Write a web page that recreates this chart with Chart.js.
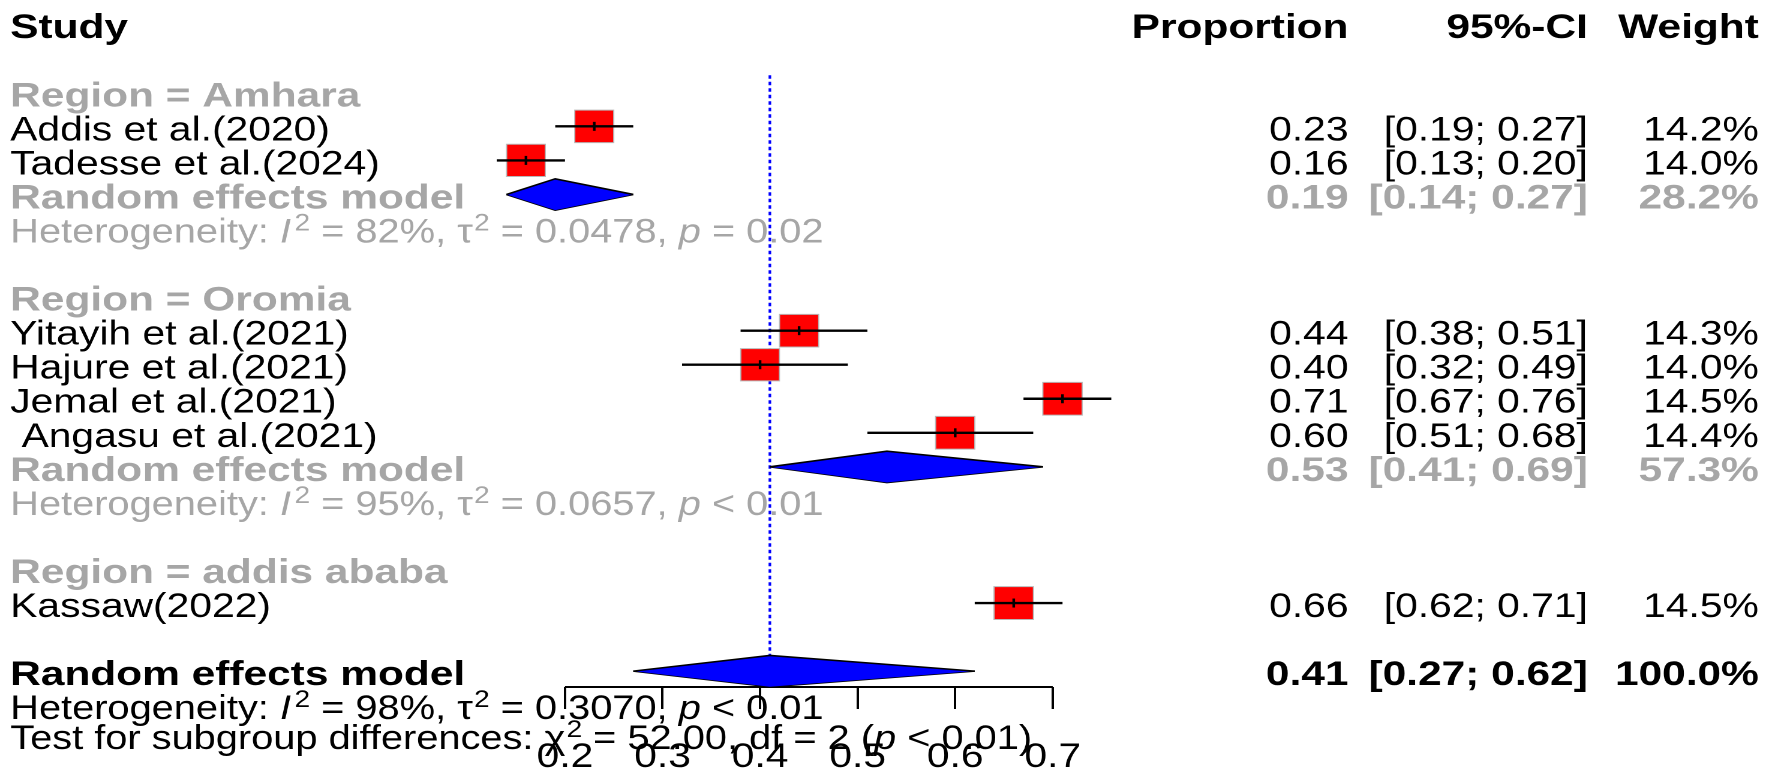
<!DOCTYPE html>
<html>
<head>
<meta charset="utf-8">
<script src="https://cdn.jsdelivr.net/npm/chart.js@4.4.1/dist/chart.umd.min.js"></script>
<style>
  html, body { margin: 0; padding: 0; background: #fff; overflow: hidden; }
  #forest { display: block; width: 1772px !important; height: 777px !important; }
</style>
</head>
<body>
<canvas id="forest" width="1477" height="777"></canvas>
<script>
// single studies
const studyLabels = ['Addis et al.(2020)', 'Tadesse et al.(2024)', 'Yitayih et al.(2021)', 'Hajure et al.(2021)',
                     'Jemal et al.(2021)', ' Angasu et al.(2021)', 'Kassaw(2022)'];
const studyRows = [3, 4, 9, 10, 11, 12, 17];
const studyEst = [0.23, 0.16, 0.44, 0.40, 0.71, 0.60, 0.66];
const studyLower = [0.19, 0.13, 0.38, 0.32, 0.67, 0.51, 0.62];
const studyUpper = [0.27, 0.20, 0.51, 0.49, 0.76, 0.68, 0.71];
const studyWeight = [14.2, 14.0, 14.3, 14.0, 14.5, 14.4, 14.5];

// subgroups
const groupLabels = ['Region = Amhara', 'Region = Oromia', 'Region = addis ababa'];
const groupRows = [2, 8, 16];
const pooledRows = [5, 13];
const pooledEst = [0.19, 0.53];
const pooledLower = [0.14, 0.41];
const pooledUpper = [0.27, 0.69];
const pooledWeight = [28.2, 57.3];
const pooledI2 = [82, 95];
const pooledTau2 = [0.0478, 0.0657];
const pooledP = ['= 0.02', '< 0.01'];

// overall
const overallRow = 19;
const overallEst = 0.41;
const overallLower = 0.27;
const overallUpper = 0.62;
const overallWeight = 100.0;
const overallI2 = 98;
const overallTau2 = 0.3070;
const overallP = '< 0.01';
const testChi2 = 52.00;
const testDf = 2;
const testP = '< 0.01';

const xTicks = [0.2, 0.3, 0.4, 0.5, 0.6, 0.7];

const FAMILY = '"Liberation Sans", Arial, Helvetica, sans-serif';
const FS = 34;
const GRAY = '#a6a6a6';
const DIAMOND_H = 0.46;
const AXIS_ROW = 19.466;

const datasets = [];

// small black tick at each point estimate
datasets.push({
    type: 'scatter',
    data: studyEst.map((v, i) => ({x: v, y: studyRows[i]})),
    pointStyle: 'line', rotation: 90, pointRadius: 4.5,
    borderColor: '#000', borderWidth: 2.2, order: 0, clip: false
});

// confidence intervals
studyEst.forEach((v, i) => {
    datasets.push({
        type: 'line',
        data: [{x: studyLower[i], y: studyRows[i]}, {x: studyUpper[i], y: studyRows[i]}],
        borderColor: '#000', borderWidth: 2.4, pointRadius: 0, fill: false, order: 1, clip: false
    });
});

// weight squares
datasets.push({
    type: 'scatter',
    data: studyEst.map((v, i) => ({x: v, y: studyRows[i]})),
    pointStyle: 'rect',
    pointRadius: studyWeight.map(w => 16.3 * Math.sqrt(w / 14.3) / Math.SQRT1_2),
    backgroundColor: '#ff0000', borderColor: '#b8b8b8', borderWidth: 1,
    order: 2, clip: false
});

// diamonds: top half filled down to bottom half
function addDiamond(est, lo, hi, row) {
    datasets.push({
        type: 'line',
        data: [{x: lo, y: row}, {x: est, y: row - DIAMOND_H}, {x: hi, y: row}],
        borderColor: '#000', borderWidth: 1.6, backgroundColor: '#0000ff',
        fill: '+1', pointRadius: 0, tension: 0, order: 3, clip: false
    });
    datasets.push({
        type: 'line',
        data: [{x: lo, y: row}, {x: est, y: row + DIAMOND_H}, {x: hi, y: row}],
        borderColor: '#000', borderWidth: 1.6, backgroundColor: '#0000ff',
        fill: false, pointRadius: 0, tension: 0, order: 3, clip: false
    });
}
pooledEst.forEach((v, i) => addDiamond(v, pooledLower[i], pooledUpper[i], pooledRows[i]));
addDiamond(overallEst, overallLower, overallUpper, overallRow);

// reference line at the overall estimate
datasets.push({
    type: 'line',
    data: [{x: overallEst, y: 1.5}, {x: overallEst, y: overallRow}],
    borderColor: '#0000ff', borderWidth: 2.2, borderDash: [3.5, 3],
    pointRadius: 0, fill: false, order: 5, clip: false
});

// axis line only across the tick range
datasets.push({
    type: 'line',
    data: [{x: xTicks[0], y: AXIS_ROW}, {x: xTicks[xTicks.length - 1], y: AXIS_ROW}],
    borderColor: '#000', borderWidth: 2, pointRadius: 0, fill: false, order: 4, clip: false
});

function font(style) {
    if (style === 'b') return 'bold ' + FS + 'px ' + FAMILY;
    if (style === 'i') return 'italic ' + FS + 'px ' + FAMILY;
    if (style === 'sup') return Math.round(FS * 0.7) + 'px ' + FAMILY;
    return FS + 'px ' + FAMILY;
}

// text with italic / superscript pieces, slightly condensed like the original
function drawRich(ctx, x0, y, parts, color) {
    ctx.save();
    ctx.translate(x0, y);
    ctx.scale(0.975, 1);
    ctx.fillStyle = color;
    ctx.textAlign = 'left';
    ctx.textBaseline = 'alphabetic';
    let x = 0;
    parts.forEach(p => {
        ctx.font = font(p.s);
        if (p.s === 'sup') x += (p.gap || 1);
        ctx.fillText(p.t, x, p.s === 'sup' ? -12 : 0);
        x += ctx.measureText(p.t).width;
    });
    ctx.restore();
}

function hetParts(i2, tau2, pText) {
    return [
        {t: 'Heterogeneity: '}, {t: 'I', s: 'i'}, {t: '2', s: 'sup', gap: 3},
        {t: ' = ' + i2 + '%, '}, {t: 'τ'}, {t: '2', s: 'sup'},
        {t: ' = ' + tau2.toFixed(4) + ', '}, {t: 'p', s: 'i'}, {t: ' ' + pText}
    ];
}

function drawText(ctx, str, x, y, align, style, color) {
    ctx.save();
    ctx.font = font(style);
    ctx.fillStyle = color;
    ctx.textAlign = align;
    ctx.textBaseline = 'alphabetic';
    ctx.translate(x, y);
    if (style === 'b') ctx.scale(1.04, 1);
    ctx.fillText(str, 0, 0);
    ctx.restore();
}

// column anchors (left text, right-aligned numbers)
const COL_STUDY = 8.5;
const COL_PROP = 1124;
const COL_CI = 1323.5;
const COL_W = 1466;

const tablePlugin = {
    id: 'forestTable',
    afterDraw(chart) {
        const ctx = chart.ctx;
        const yScale = chart.scales.y;
        const rowY = r => yScale.getPixelForValue(r) + 14;
        ctx.save();

        // header
        drawText(ctx, 'Study', COL_STUDY, rowY(0), 'left', 'b', '#000');
        drawText(ctx, 'Proportion', COL_PROP, rowY(0), 'right', 'b', '#000');
        drawText(ctx, '95%-CI', COL_CI, rowY(0), 'right', 'b', '#000');
        drawText(ctx, 'Weight', COL_W, rowY(0), 'right', 'b', '#000');

        groupLabels.forEach((g, i) => drawText(ctx, g, COL_STUDY, rowY(groupRows[i]), 'left', 'b', GRAY));

        studyLabels.forEach((s, i) => {
            const y = rowY(studyRows[i]);
            drawText(ctx, s, COL_STUDY, y, 'left', 'n', '#000');
            drawText(ctx, studyEst[i].toFixed(2), COL_PROP, y, 'right', 'n', '#000');
            drawText(ctx, '[' + studyLower[i].toFixed(2) + '; ' + studyUpper[i].toFixed(2) + ']', COL_CI, y, 'right', 'n', '#000');
            drawText(ctx, studyWeight[i].toFixed(1) + '%', COL_W, y, 'right', 'n', '#000');
        });

        pooledEst.forEach((v, i) => {
            const y = rowY(pooledRows[i]);
            drawText(ctx, 'Random effects model', COL_STUDY, y, 'left', 'b', GRAY);
            drawText(ctx, v.toFixed(2), COL_PROP, y, 'right', 'b', GRAY);
            drawText(ctx, '[' + pooledLower[i].toFixed(2) + '; ' + pooledUpper[i].toFixed(2) + ']', COL_CI, y, 'right', 'b', GRAY);
            drawText(ctx, pooledWeight[i].toFixed(1) + '%', COL_W, y, 'right', 'b', GRAY);
            drawRich(ctx, COL_STUDY, rowY(pooledRows[i] + 1), hetParts(pooledI2[i], pooledTau2[i], pooledP[i]), GRAY);
        });

        const yo = rowY(overallRow);
        drawText(ctx, 'Random effects model', COL_STUDY, yo, 'left', 'b', '#000');
        drawText(ctx, overallEst.toFixed(2), COL_PROP, yo, 'right', 'b', '#000');
        drawText(ctx, '[' + overallLower.toFixed(2) + '; ' + overallUpper.toFixed(2) + ']', COL_CI, yo, 'right', 'b', '#000');
        drawText(ctx, overallWeight.toFixed(1) + '%', COL_W, yo, 'right', 'b', '#000');
        drawRich(ctx, COL_STUDY, rowY(overallRow + 1), hetParts(overallI2, overallTau2, overallP), '#000');
        drawRich(ctx, COL_STUDY, rowY(overallRow + 1.88), [
            {t: 'Test for subgroup differences: '}, {t: 'χ'}, {t: '2', s: 'sup'},
            {t: ' = ' + testChi2.toFixed(2) + ', df = ' + testDf + ' ('}, {t: 'p', s: 'i'}, {t: ' ' + testP + ')'}
        ], '#000');

        ctx.restore();
    }
};

new Chart(document.getElementById('forest'), {
    type: 'scatter',
    data: { datasets: datasets },
    options: {
        responsive: false,
        devicePixelRatio: 2,
        animation: false,
        events: [],
        layout: { padding: { left: 389.6, right: 518.2, top: 18.7, bottom: 0 } },
        plugins: { legend: { display: false }, tooltip: { enabled: false } },
        scales: {
            x: {
                type: 'linear',
                min: 0.1,
                max: 0.8,
                afterFit: scale => { scale.height = 90; },
                afterBuildTicks: scale => { scale.ticks = xTicks.map(v => ({value: v})); },
                ticks: {
                    callback: v => v.toFixed(1),
                    font: { family: FAMILY, size: FS },
                    color: '#000',
                    padding: 28,
                    autoSkip: false,
                    maxRotation: 0
                },
                grid: { drawOnChartArea: false, drawTicks: true, tickLength: 22, tickColor: '#000', tickWidth: 2 },
                border: { display: false }
            },
            y: {
                type: 'linear',
                display: false,
                reverse: true,
                min: 0,
                max: AXIS_ROW
            }
        }
    },
    plugins: [tablePlugin]
});
</script>
</body>
</html>
